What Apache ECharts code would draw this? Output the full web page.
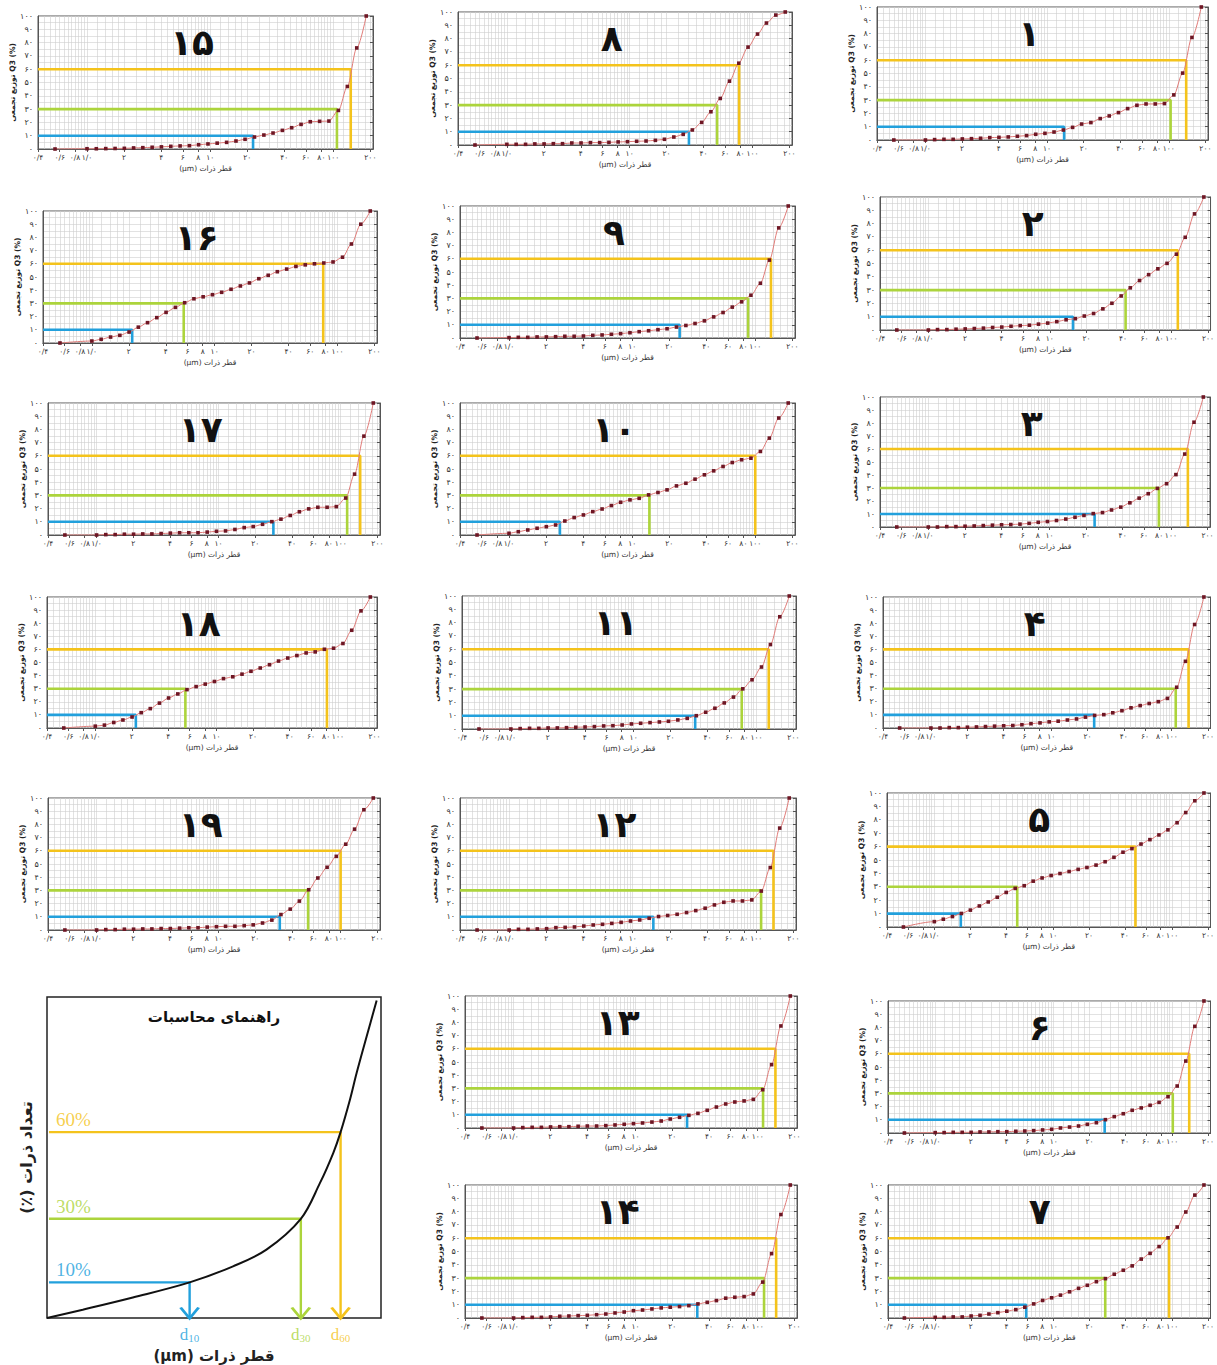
<!DOCTYPE html>
<html><head><meta charset="utf-8">
<script src="https://cdn.jsdelivr.net/npm/echarts@6/dist/echarts.min.js"></script>
<style>html,body{margin:0;padding:0;background:#fff}#c{width:1217px;height:1365px}</style>
</head><body><div id="c"></div>
<script>
// ---------- DATA ----------
const sizes = [0.55, 1.00, 1.19, 1.42, 1.69, 2.01, 2.39, 2.84, 3.38, 4.02, 4.79, 5.70, 6.78, 8.06, 9.60, 11.4, 13.6, 16.2, 19.2, 22.9, 27.3, 32.4, 38.6, 45.9, 54.7, 65.0, 77.4, 92.1, 110, 130, 155, 185];

const cum1  = [0, 0,0.3,0.5,0.5,0.8,1,1.3,1.8,2,2.3, 2.8,3.3,4.3,5,6,7.5,9.5,12,13.1,16.1, 18.1,20.6,23.6,26.1,27.1,27.1,27.4,33.9,50.3,77.1, 100];
const cum2  = [0, 0,0.3,0.3,0.6,0.8,1.1,1.4,1.9,2.2,2.8, 3.3,3.6,4.4,5.2,6.3,7.7,8.5,10.5,12.4,15.9, 20.1,25.6,31.7,37.2,41.6,46,50.1,57,69.7,87.3, 100];
const cum3  = [0, 0,0,0.3,0.3,0.6,0.8,1.1,1.4,1.7,1.9, 2.2,2.8,3.6,4.2,5,6.1,7.5,8.9,10.3,11.1, 13.1,15.3,18.6,22.2,25.6,29.7,33.3,40.3,56.1,80.6, 100];
const cum4  = [0, 0,0,0.3,0.3,0.6,0.8,1.1,1.4,1.7,1.9, 2.5,3.3,3.9,4.7,5.2,6.1,6.9,8.3,9.6,10.2, 11.6,13.2,15.4,17.1,18.7,20.1,22.6,31.1,50.9,79, 100];
const cum5  = [0, 4,5.8,7.8,10.1,12.6,15.7,18.7,22.2,25.8,28.8, 30.8,34.2,36.6,38.4,39.9,41.4,43,44.4,46.2,48.7, 52,55.8,58.5,61.9,65.2,68.7,72.5,77.8,85.4,94.2, 100];
const cum6  = [0, 0.3,0.3,0.5,0.5,0.5,0.8,0.8,1,1,1.3, 1.5,1.8,2.3,2.8,3.8,4.5,5.3,6.6,7.8,10.1, 12.4,14.6,17.2,19,21,23.2,27.5,35.6,54.5,80.8, 100];
const cum7  = [0, 0.5,0.5,0.8,0.8,1.5,2,3,4,5.1,6.3, 8.1,10.6,13.2,15.2,17.2,19.7,22.3,24.6,27.3,29.6, 32.9,35.9,39.2,44.3,48.6,53.7,60.3,68.4,79.7,92.4, 100];
const cum8  = [0, 0.5,0.5,0.5,0.8,0.8,1,1,1.5,1.5,1.8, 1.8,2,2.3,2.5,2.8,3,3.5,4.3,6,8, 11.3,17,25,35,48,61.5,73.6,83.4,91.7,97.7, 100];
const cum9  = [0, 0.3,0.5,0.5,0.8,0.8,1,1.3,1.3,1.5,2, 2.3,2.8,3.3,4,4.8,5.5,6.3,7,8.3,9.5, 11,13,16,19.3,23.4,27.4,32.4,41.5,59,83.4, 100];
const cum10 = [0, 1.3,2.5,3.8,5.1,6.3,7.6,10.6,13.2,15.2,17.7, 19.7,22.3,24.8,26.6,27.8,30.4,32.2,34.2,37.2,39.2, 42.3,45.6,48.6,51.9,54.9,57,58.2,63.3,73.4,88.6, 100];
const cum11 = [0, 0,0.3,0.5,0.5,0.8,0.8,1,1.3,1.5,1.8, 2.3,2.5,3,3.8,4.3,4.8,5.3,5.8,6.8,8, 10,12.6,15.6,19.6,24,30.2,37,46.6,63.5,84.4, 100];
const cum12 = [0, 0,0.5,0.5,0.8,1,1.8,2,2.3,3,3.8, 4.3,5,5.8,6.8,7.6,8.9,10.2,11,11.9,13.2, 14.7,16.5,19,21,22,22,22.8,29.5,47.3,77.2, 100];
const cum13 = [0, 0,0.3,0.5,0.5,0.8,1,1,1.3,1.5,1.5, 1.8,2.3,2.8,3.3,3.8,4.5,5.3,6.8,8.1,9.6, 11.1,13.4,15.9,18.2,19.7,20.5,21.7,29,48,77.3, 100];
const cum14 = [0, 0,0.3,0.5,0.5,0.8,1.3,1.5,1.8,2,2.5, 3,3.8,4.5,5.5,6,6.8,7.6,8.1,8.6,9.3, 10.6,11.8,13.1,14.9,15.6,16.1,18.1,27,48.4,77.8, 100];
const cum15 = [0, 0.2,0.2,0.3,0.4,0.5,0.8,1,1.3,1.6,2, 2.3,2.5,3.2,3.8,4.4,5,6,7.3,9,10.5, 12,14,16,18.5,20.5,20.8,21,29,47,76, 100];
const cum16 = [0, 1.5,2.8,4.5,5.8,8.3,12,15.4,19.2,23.2,27, 30.5,33.5,35,36.6,38.4,40.7,43.2,45.5,48.7,51.3, 54,56,58,59.2,60,60.6,61.4,65,75,90, 100];
const cum17 = [0, 0,0.3,0.3,0.6,0.6,0.8,0.8,1.1,1.4,1.7, 1.7,1.7,2.2,2.8,3.1,4.2,5.6,6.4,8.1,10.1, 12,14.8,17.6,19.8,21,21,21.5,28,46.1,74.9, 100];
const cum18 = [0, 1.4,2.2,4.2,6.1,8.4,11.7,14.8,19,22.9,26, 29.3,31.6,33.5,35.5,37.7,39.1,41.1,43.3,45.8,48.3, 51.1,53.4,55.3,57.3,58.1,60.1,60.9,64.5,74.6,89.4, 100];
const cum19 = [0, 0,0.3,0.3,0.6,0.6,0.8,0.8,1.1,1.1,1.4, 1.7,1.7,2.2,2.5,2.8,2.8,3.3,3.9,5.3,7.5, 11.7,15.8,21.9,30.5,39.4,47.5,55.8,65,76.4,91.1, 100];

// d10 / d30 / d60 per panel (panel 1 .. 19)
const d10 = [13.8, 15.5, 23.5, 22.7, 1.67, 26.9, 5.86, 30.4, 24.3, 2.59, 31.7, 14.7, 26.4, 32, 22.3, 2.13, 28.1, 2.16, 31.7];
const d30 = [103.5, 42, 79.6, 108, 4.98, 101, 27.2, 51.6, 87.4, 13.8, 75.9, 109.6, 110.7, 112.8, 107, 5.6, 113, 5.53, 54.1];
const d60 = [139, 113, 138, 138, 49.1, 139, 94, 77.9, 134, 99.9, 126, 138, 139.8, 141.7, 138.5, 76.6, 144.5, 81.2, 99.9];
const levels = [10, 30, 60];

const panelLabels = ['۱','۲','۳','۴','۵','۶','۷','۸','۹','۱۰','۱۱','۱۲','۱۳','۱۴','۱۵','۱۶','۱۷','۱۸','۱۹'];
const xTickValues = [0.4, 0.6, 0.8, 1, 2, 4, 6, 8, 10, 20, 40, 60, 80, 100, 200];
const xTickLabels = ['۰/۴','۰/۶','۰/۸','۱/۰','۲','۴','۶','۸','۱۰','۲۰','۴۰','۶۰','۸۰','۱۰۰','۲۰۰'];
const gridLinesX = [0.45,0.5,0.55,0.6,0.65,0.7,0.75,0.8,0.85,0.9,0.95,1,1.2,1.4,1.6,1.8,2,2.5,3,3.5,4,4.5,5,5.5,6,6.5,7,7.5,8,8.5,9,9.5,10,12,14,16,18,20,25,30,35,40,45,50,55,60,65,70,75,80,85,90,95,100,120,140,160,180,200];

// guide diagram
const guideX = [0, 10.7, 25.7, 42.7, 55.7, 65.7, 76, 81.7, 85.7, 87.9, 90.7, 92.7, 95.7, 98.7];
const guideY = [0, 2.6, 6.4, 11.1, 16.1, 21.3, 30.9, 42, 51.4, 57.9, 68, 76.3, 87.7, 98.9];
const guideLevels = [11.1, 30.9, 57.9];
const guideD = [42.7, 76, 87.9];
const guidePctLabels = ['10%', '30%', '60%'];
const guideDSubs = ['10', '30', '60'];

// ---------- LAYOUT / STYLE ----------
const cums = [cum1,cum2,cum3,cum4,cum5,cum6,cum7,cum8,cum9,cum10,cum11,cum12,cum13,cum14,cum15,cum16,cum17,cum18,cum19];
const frames = [
  [877, 7, 331, 133], [880, 197, 332, 133], [880, 397, 330, 130], [883, 597, 330, 131],
  [887, 793, 331, 134], [888, 1001, 330, 132], [888, 1185, 330, 133],
  [458, 12, 334, 133], [460, 206, 335, 132], [460, 403, 335, 132], [462, 596, 334, 133],
  [460, 798, 336, 132], [465, 996, 332, 132], [465, 1185, 332, 133],
  [38, 16, 335, 133], [43, 211, 334, 132], [48, 403, 332, 132], [47, 597, 330, 131], [48, 798, 332, 132]
];
const X_MIN = 0.4, X_MAX = 210;
const FONT = '"DejaVu Sans", sans-serif';
const BLUE = '#22a0dc', GREEN = '#acd43c', YELLOW = '#f4c31c';
const LCOLS = [BLUE, GREEN, YELLOW];
const FA = '۰۱۲۳۴۵۶۷۸۹';
const toFa = v => String(v).replace(/[0-9]/g, d => FA[+d]);
const xLabel = v => { for (let i = 0; i < xTickValues.length; i++) if (Math.abs(v - xTickValues[i]) / xTickValues[i] < 1e-3) return xTickLabels[i]; return ''; };

const grid = [], xAxis = [], yAxis = [], series = [], graphic = [];

cums.forEach((cum, k) => {
  const [l, t, w, h] = frames[k];
  const g = grid.length;
  grid.push({left: l, top: t, width: w, height: h, show: true, borderColor: '#555', borderWidth: 1, backgroundColor: '#fff'});
  const xb = xAxis.length;
  xAxis.push({
    type: 'log', logBase: 10, gridIndex: g, min: X_MIN, max: X_MAX, position: 'bottom',
    axisLine: {show: true, lineStyle: {color: '#555', width: 1}},
    axisTick: {show: false, customValues: gridLinesX},
    splitLine: {show: true, lineStyle: {color: '#cfcfcf', width: 0.6}},
    axisLabel: {customValues: xTickValues, formatter: xLabel, fontSize: 7.5, color: '#333', margin: 4, fontFamily: FONT},
    name: '(µm) قطر ذرات', nameLocation: 'middle', nameGap: 15,
    nameTextStyle: {fontSize: 7.5, color: '#333', fontFamily: FONT}
  });
  xAxis.push({
    type: 'log', logBase: 10, gridIndex: g, min: X_MIN, max: X_MAX, position: 'top',
    axisLine: {show: true, lineStyle: {color: '#555', width: 1}},
    axisTick: {show: true, inside: true, length: 3, customValues: xTickValues, lineStyle: {color: '#555'}},
    axisLabel: {show: false}, splitLine: {show: false}
  });
  const yb = yAxis.length;
  yAxis.push({
    type: 'value', gridIndex: g, min: 0, max: 100, interval: 5,
    axisLine: {show: true, lineStyle: {color: '#555', width: 1}},
    axisTick: {show: false},
    splitLine: {show: true, lineStyle: {color: '#cfcfcf', width: 0.6}},
    axisLabel: {formatter: v => (v % 10 === 0 ? toFa(v) : ''), fontSize: 8, color: '#333', margin: 5, fontFamily: FONT},
    name: 'توزیع تجمعی Q3 (%)', nameLocation: 'middle', nameRotate: 90, nameGap: 20,
    nameTextStyle: {fontSize: 7.5, fontWeight: 'bold', color: '#222', fontFamily: FONT}
  });
  yAxis.push({
    type: 'value', gridIndex: g, min: 0, max: 100, interval: 10, position: 'right',
    axisLine: {show: true, lineStyle: {color: '#555', width: 1}},
    axisTick: {show: true, inside: true, length: 3, lineStyle: {color: '#555'}},
    axisLabel: {show: false}, splitLine: {show: false}
  });
  const dv = [d10[k], d30[k], d60[k]];
  [2, 1, 0].forEach(j => {
    series.push({
      type: 'line', xAxisIndex: xb, yAxisIndex: yb, silent: true, animation: false,
      data: [[X_MIN, levels[j]], [dv[j], levels[j]], [dv[j], 0]],
      symbol: 'none', lineStyle: {color: LCOLS[j], width: 2.6}, z: 3
    });
  });
  series.push({
    type: 'line', xAxisIndex: xb, yAxisIndex: yb, animation: false,
    data: sizes.map((s, i) => [s, cum[i]]),
    smooth: 0.3, smoothMonotone: 'x',
    symbol: 'rect', symbolSize: 3.6,
    itemStyle: {color: '#6e1624'}, lineStyle: {color: '#e07b78', width: 1}, z: 4
  });
  graphic.push({
    type: 'text', x: l + w * 0.46, y: t + 26, z: 20,
    style: {text: panelLabels[k], font: 'bold 36px "DejaVu Sans"', fill: '#111', align: 'center', verticalAlign: 'middle'}
  });
});

// ---------- guide panel ----------
(function () {
  const g = grid.length;
  grid.push({left: 47, top: 997, width: 334, height: 321, show: true, borderColor: '#222', borderWidth: 1.5, backgroundColor: '#fff'});
  const xb = xAxis.length, yb = yAxis.length;
  xAxis.push({type: 'value', gridIndex: g, min: 0, max: 100,
    axisLine: {show: false}, axisTick: {show: false}, axisLabel: {show: false}, splitLine: {show: false},
    name: '(µm) قطر ذرات', nameLocation: 'middle', nameGap: 30,
    nameTextStyle: {fontSize: 15, fontWeight: 'bold', color: '#222', fontFamily: FONT}});
  yAxis.push({type: 'value', gridIndex: g, min: 0, max: 100,
    axisLine: {show: false}, axisTick: {show: false}, axisLabel: {show: false}, splitLine: {show: false},
    name: '(٪) تعداد ذرات', nameLocation: 'middle', nameRotate: 90, nameGap: 13,
    nameTextStyle: {fontSize: 16, fontWeight: 'bold', color: '#222', fontFamily: FONT}});
  series.push({type: 'line', xAxisIndex: xb, yAxisIndex: yb, animation: false, silent: true,
    data: guideX.map((x, i) => [x, guideY[i]]), smooth: 0.35, symbol: 'none',
    lineStyle: {color: '#111', width: 2}, z: 5});
  guideLevels.forEach((lv, j) => {
    series.push({type: 'line', xAxisIndex: xb, yAxisIndex: yb, animation: false, silent: true,
      symbol: 'none', lineStyle: {color: LCOLS[j], width: 2.4}, z: 4,
      data: [
        {value: [0.6, lv], symbol: 'none'},
        {value: [guideD[j], lv], symbol: 'none'},
        {value: [guideD[j], 0], symbol: 'path://M0,0L10,9L20,0', symbolSize: [18, 11], symbolOffset: [0, -5],
         itemStyle: {color: 'rgba(0,0,0,0)', borderColor: LCOLS[j], borderWidth: 2.4}}
      ]});
  });
  series.push({type: 'scatter', xAxisIndex: xb, yAxisIndex: yb, animation: false, silent: true,
    symbolSize: 0, z: 6,
    data: guideLevels.map((lv, j) => ({value: [0, lv],
      label: {show: true, position: 'top', align: 'left', distance: 3, offset: [9, 0],
        formatter: guidePctLabels[j], color: LCOLS[j], fontSize: 19, fontFamily: '"Liberation Serif", serif'}}))});
  series.push({type: 'scatter', xAxisIndex: xb, yAxisIndex: yb, animation: false, silent: true,
    symbolSize: 0, z: 6,
    data: guideD.map((d, j) => ({value: [d, 0],
      label: {show: true, position: 'bottom', distance: 8,
        formatter: '{a|d}{b|' + guideDSubs[j] + '}',
        rich: {a: {fontSize: 17, color: LCOLS[j], fontFamily: '"Liberation Serif", serif'},
               b: {fontSize: 11, color: LCOLS[j], fontFamily: '"Liberation Serif", serif', padding: [6, 0, 0, 0]}}}}))});
  graphic.push({type: 'text', x: 214, y: 1017, z: 20,
    style: {text: 'راهنمای محاسبات', font: 'bold 15px "DejaVu Sans"', fill: '#111', align: 'center', verticalAlign: 'middle'}});
})();

const chart = echarts.init(document.getElementById('c'), null, {renderer: 'svg', width: 1217, height: 1365});
chart.setOption({backgroundColor: '#fff', animation: false, grid, xAxis, yAxis, series, graphic});
</script>
</body></html>
